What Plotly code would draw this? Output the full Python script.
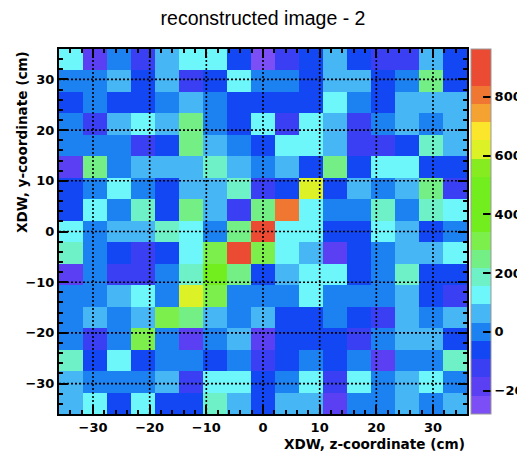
import numpy as np
import plotly.graph_objects as go

# ---------------- data ----------------
chart_title = "reconstructed image - 2"
x_title = "XDW, z-coordinate (cm)"
y_title = "XDW, y-coordinate (cm)"

x_lo, x_hi, n_x = -36.0, 36.0, 17
y_lo, y_hi, n_y = -36.0, 36.0, 17
z_min, z_max = -280.0, 963.0
axis_ticks = [-30, -20, -10, 0, 10, 20, 30]
cbar_ticks = [-200, 0, 200, 400, 600, 800]

# cell values, top row (y ~ +34) first, left column (z ~ -34) first
rows_top_to_bottom = [
    [124, -187, 0, -125, 62, 124, 124, -62, -249, -125, -62, 62, -62, -125, -125, 62, -62],
    [0, 0, 62, -62, 62, -125, -62, 124, 0, 0, -62, 62, 62, -62, 0, 249, -62],
    [-62, 0, -62, -62, 0, 62, 0, -62, -62, -62, -62, 124, 0, -62, 62, 62, 62],
    [0, -125, 62, 124, 62, 249, 0, -62, 124, -125, 124, 62, -125, 0, 62, 0, 62],
    [0, 0, 0, -125, -62, 249, 62, 0, -62, 124, 124, 62, -125, -125, -62, 186, 62],
    [-187, 249, 0, 62, 62, 62, 186, 62, 0, 62, -62, 249, -62, 124, 124, -62, -62],
    [-62, 0, 124, 0, -62, 62, 62, 186, -125, -62, 621, -62, 62, 0, 62, 249, -125],
    [-62, 124, 0, 186, -62, 249, 62, -125, 249, 808, 124, 0, 0, 186, 0, 186, 124],
    [124, 0, 62, 62, 186, 124, 0, 249, 932, 124, 124, -62, -62, 124, 62, -62, 0],
    [186, 0, -62, -125, -62, 124, 311, 870, 311, 124, 62, -187, -62, 0, 62, 62, 124],
    [-187, 0, -125, -125, 0, 186, 435, 249, -62, 62, 124, 124, -62, 0, 186, -62, -62],
    [0, 0, 62, 124, 0, 621, 311, 0, 0, 0, 124, 0, 0, 0, 62, -62, -125],
    [0, 62, 0, 62, 311, 249, 62, 0, 62, -62, -62, 0, -62, -125, 62, 0, 62],
    [0, -125, 0, 311, 0, -187, 0, 62, -187, -62, -62, -62, -125, 0, 62, 62, -62],
    [186, -62, 124, -62, 0, 0, -62, 0, -125, -62, 0, -62, 0, -187, 0, 0, 186],
    [62, 0, 0, 0, 62, -125, 124, 124, -62, 0, 124, -125, 124, 0, 62, 124, 0],
    [62, 124, -62, 124, -62, -62, 186, 62, -62, 62, 62, -187, 0, 0, 62, 0, 62],
]

# 20 contour colours, lowest first
band_colors = [
    "#7B4FF5", "#5B3FF2", "#3A3FF4", "#1447F4", "#1C82F1",
    "#46B6F4", "#6EF7FA", "#6FF1C8", "#73EF86", "#7DEF4C",
    "#72EE1E", "#72EE1E", "#72EE1E", "#86EC1F", "#DCF126",
    "#FCE62B", "#F4A232", "#EF7732", "#EC4B33", "#EC4B33",
]

# ---------------- build ----------------
n_band = len(band_colors)
colorscale = []
for k, c in enumerate(band_colors):
    colorscale.append([k / n_band, c])
    colorscale.append([(k + 1) / n_band, c])

x_edges = np.linspace(x_lo, x_hi, n_x + 1)
y_edges = np.linspace(y_lo, y_hi, n_y + 1)
x_centers = 0.5 * (x_edges[:-1] + x_edges[1:])
y_centers = 0.5 * (y_edges[:-1] + y_edges[1:])
z = rows_top_to_bottom[::-1]

FONT = "DejaVu Sans, Verdana, sans-serif"
TITLE_FONT = "Liberation Sans, Arial, Helvetica, sans-serif"

fig = go.Figure()
fig.add_trace(go.Heatmap(
    x=x_centers, y=y_centers, z=z,
    zmin=z_min, zmax=z_max,
    colorscale=colorscale,
    zsmooth=False,
    hoverinfo="skip",
    colorbar=dict(
        x=1.0, xref="paper", xanchor="left", xpad=4,
        y=0.5, yanchor="middle", len=1.0, lenmode="fraction", ypad=0,
        thickness=20, outlinewidth=1, outlinecolor="#999999",
        tickmode="array", tickvals=cbar_ticks,
        ticks="inside", ticklen=8, tickwidth=2, tickcolor="black",
        tickfont=dict(family=FONT, size=13, color="black", weight="bold"),
    ),
))

# dotted grid drawn above the cells
for v in axis_ticks:
    fig.add_shape(type="line", xref="x", yref="y", x0=v, x1=v, y0=y_lo, y1=y_hi,
                  line=dict(color="black", width=1.6, dash="2px,2px"), layer="above")
    fig.add_shape(type="line", xref="x", yref="y", x0=x_lo, x1=x_hi, y0=v, y1=v,
                  line=dict(color="black", width=1.6, dash="2px,2px"), layer="above")

axis_common = dict(
    showgrid=False, zeroline=False,
    showline=True, linecolor="black", linewidth=2, mirror="ticks",
    ticks="inside", ticklen=9, tickwidth=2, tickcolor="black",
    tickmode="array", tickvals=axis_ticks,
    minor=dict(ticks="inside", ticklen=4, tickwidth=1.5, tickcolor="black",
               dtick=2, tick0=0, showgrid=False),
    tickfont=dict(family=FONT, size=13, color="black", weight="bold"),
    layer="above traces",
    automargin=False,
)
fig.update_xaxes(range=[x_lo, x_hi], **axis_common)
fig.update_yaxes(range=[y_lo, y_hi], **axis_common)

fig.add_annotation(text=x_title, xref="paper", yref="paper", x=1.0, y=-0.082,
                   xanchor="right", yanchor="middle", showarrow=False,
                   font=dict(family=FONT, size=13.6, color="black", weight="bold"))
fig.add_annotation(text=y_title, xref="paper", yref="paper", x=-0.0907, y=1.0,
                   xanchor="center", yanchor="top", textangle=-90, showarrow=False,
                   font=dict(family=FONT, size=13.6, color="black", weight="bold"))

fig.update_layout(
    width=517, height=452,
    margin=dict(l=59, r=50, t=49, b=38, autoexpand=False),
    paper_bgcolor="white", plot_bgcolor="white",
    title=dict(text=chart_title, x=0.5, xref="paper", xanchor="center",
               y=1 - 18 / 452, yref="container", yanchor="middle",
               font=dict(family=TITLE_FONT, size=19.5, color="black")),
    showlegend=False,
)

fig.write_html("out.html", config={"displayModeBar": False},
               post_script="document.body.style.margin='0px';")
